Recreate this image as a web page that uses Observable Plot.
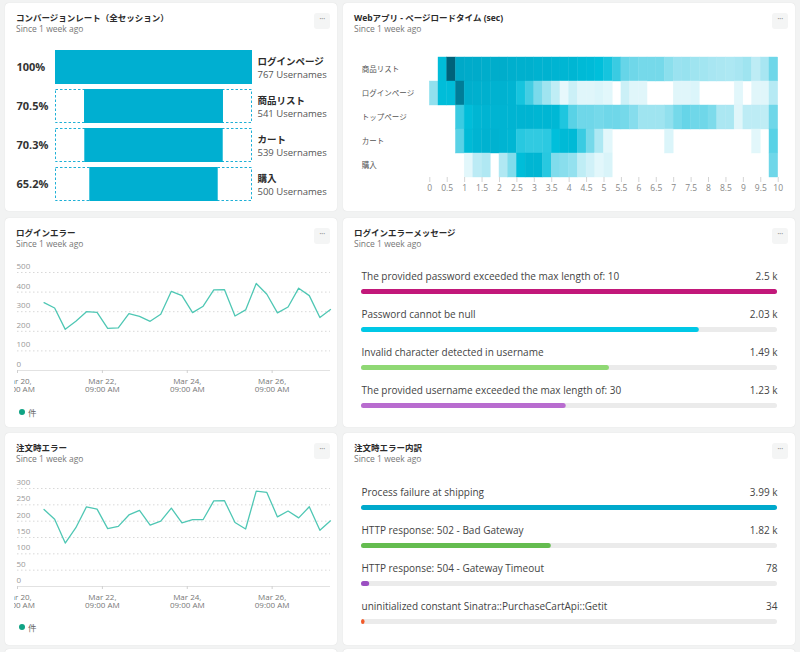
<!DOCTYPE html>
<html><head><meta charset="utf-8">
<script src="https://cdn.jsdelivr.net/npm/d3@7"></script>
<script src="https://cdn.jsdelivr.net/npm/@observablehq/plot@0.6"></script>
<style>
body{margin:0;background:#f2f3f3;width:800px;height:652px;overflow:hidden;position:relative;font-family:"Open Sans","Noto Sans CJK JP",sans-serif;}
.panel{position:absolute;background:#fff;border-radius:4px;box-shadow:0 0 1px rgba(0,0,0,0.15);}
.title{position:absolute;left:11px;top:8px;font-size:8.5px;font-weight:700;color:#2b2b2b;white-space:nowrap;}
.sub{position:absolute;left:11px;top:20px;font-size:8.5px;color:#777;white-space:nowrap;}
.dots{position:absolute;right:7px;top:10px;width:16px;height:16px;background:#f4f5f5;border-radius:3px;color:#888;font-size:9px;text-align:center;line-height:11px;letter-spacing:-0.5px;}
.chart{position:absolute;}
.chart svg{overflow:hidden;background:transparent;}
.legend{position:absolute;font-size:8.5px;color:#666;display:flex;align-items:center;gap:3px;}
.legend i{display:inline-block;width:6px;height:6px;border-radius:50%;background:#10a384;}
</style></head>
<body>
<div class="panel" style="left:5px;top:3px;width:332px;height:208px"><div class="title">コンバージョンレート（全セッション）</div><div class="sub">Since 1 week ago</div><div class="dots">···</div></div>
<div class="panel" style="left:343px;top:3px;width:452px;height:208px"><div class="title">Webアプリ - ページロードタイム (sec)</div><div class="sub">Since 1 week ago</div><div class="dots">···</div></div>
<div class="panel" style="left:5px;top:218px;width:332px;height:209px"><div class="title">ログインエラー</div><div class="sub">Since 1 week ago</div><div class="dots">···</div></div>
<div class="panel" style="left:343px;top:218px;width:452px;height:209px"><div class="title">ログインエラーメッセージ</div><div class="sub">Since 1 week ago</div><div class="dots">···</div></div>
<div class="panel" style="left:5px;top:433px;width:332px;height:212px"><div class="title">注文時エラー</div><div class="sub">Since 1 week ago</div><div class="dots">···</div></div>
<div class="panel" style="left:343px;top:433px;width:452px;height:212px"><div class="title">注文時エラー内訳</div><div class="sub">Since 1 week ago</div><div class="dots">···</div></div>
<div class="panel" style="left:5px;top:649px;width:332px;height:40px"></div>
<div class="panel" style="left:343px;top:649px;width:452px;height:40px"></div>

<div class="chart" id="funnel" style="left:5px;top:40px"></div>
<div class="chart" id="heat" style="left:343px;top:50px"></div>
<div class="chart" id="login" style="left:14px;top:258px"></div>
<div class="legend" style="left:19px;top:406px"><i></i><span>件</span></div>
<div class="chart" id="listLogin" style="left:343px;top:255px"></div>
<div class="chart" id="order" style="left:14px;top:474px"></div>
<div class="legend" style="left:19px;top:621px"><i></i><span>件</span></div>
<div class="chart" id="listOrder" style="left:343px;top:471px"></div>

<script>
// ---------- Data ----------
const funnelSteps = ["ログインページ", "商品リスト", "カート", "購入"];
const funnelUsers = [767, 541, 539, 500];
const funnelPctLabels = ["100%", "70.5%", "70.3%", "65.2%"];

const loadPages = ["商品リスト", "ログインページ", "トップページ", "カート", "購入"];
const loadBinWidth = 0.25;
const loadTicks = [0,0.5,1,1.5,2,2.5,3,3.5,4,4.5,5,5.5,6,6.5,7,7.5,8,8.5,9,9.5,10];
const heatProductList = [0,76,100,87,86,86,85,85,85,84,83,83,82,82,81,80,80,78,77,75,70,62,52,50,48,48,48,40,35,36,33,32,30,29,28,30,33,22,30,50];
const heatLoginPage   = [38,76,76,95,84,83,83,82,82,81,70,60,46,33,21,4,16,7,7,9,6,0,16,7,7,0,0,0,7,7,9,0,0,0,0,6,0,7,7,25];
const heatTopPage     = [0,0,0,62,76,80,81,81,81,81,81,81,80,80,79,68,55,50,50,48,50,50,48,42,33,33,33,38,48,52,50,50,45,29,29,7,22,22,21,50];
const heatCart        = [0,0,0,55,78,81,82,82,81,80,66,64,64,65,75,78,78,62,48,28,6,0,0,0,0,0,0,9,0,0,0,0,0,0,0,0,0,6,0,55];
const heatPurchase    = [0,0,0,0,6,23,27,0,27,44,76,80,80,66,44,41,37,21,14,6,10,0,0,0,0,0,0,0,0,0,0,0,0,0,0,0,0,0,0,50];

const errTimes = [
 "2023-03-21T00:00Z","2023-03-21T06:00Z","2023-03-21T12:00Z","2023-03-21T18:00Z",
 "2023-03-22T00:00Z","2023-03-22T06:00Z","2023-03-22T12:00Z","2023-03-22T18:00Z",
 "2023-03-23T00:00Z","2023-03-23T06:00Z","2023-03-23T12:00Z","2023-03-23T18:00Z",
 "2023-03-24T00:00Z","2023-03-24T06:00Z","2023-03-24T12:00Z","2023-03-24T18:00Z",
 "2023-03-25T00:00Z","2023-03-25T06:00Z","2023-03-25T12:00Z","2023-03-25T18:00Z",
 "2023-03-26T00:00Z","2023-03-26T06:00Z","2023-03-26T12:00Z","2023-03-26T18:00Z",
 "2023-03-27T00:00Z","2023-03-27T06:00Z","2023-03-27T12:00Z","2023-03-27T18:00Z"];
const loginErrors = [346,319,210,251,300,297,215,217,290,276,251,287,404,382,295,328,411,413,278,309,444,389,294,324,420,382,270,311];
const orderErrors = [236,206,133,180,244,237,177,184,219,233,188,200,240,195,205,205,262,263,196,176,292,288,213,231,210,244,172,201];
const timeDomain = ["2023-03-20T09:00Z", "2023-03-27T18:00Z"];
const timeTicks = ["2023-03-20T09:00Z","2023-03-22T09:00Z","2023-03-24T09:00Z","2023-03-26T09:00Z"];
const loginYTicks = [0,100,200,300,400,500];
const orderYTicks = [0,50,100,150,200,250,300];

const loginMessages = ["The provided password exceeded the max length of: 10","Password cannot be null","Invalid character detected in username","The provided username exceeded the max length of: 30"];
const loginMsgCounts = [2500, 2030, 1490, 1230];
const loginMsgColors = ["#c2187a", "#00c8e6", "#8fd874", "#b86ccf"];

const orderMessages = ["Process failure at shipping","HTTP response: 502 - Bad Gateway","HTTP response: 504 - Gateway Timeout","uninitialized constant Sinatra::PurchaseCartApi::Getit"];
const orderMsgCounts = [3990, 1820, 78, 34];
const orderMsgColors = ["#00a9cc", "#64bc4f", "#9b4fc2", "#f15a2a"];

const FONT = '"Open Sans","Noto Sans CJK JP",sans-serif';

// ---------- Funnel ----------
const fData = funnelSteps.map((s, i) => ({step: s, users: funnelUsers[i], pct: funnelUsers[i] / funnelUsers[0] * 100, label: funnelPctLabels[i]}));
document.getElementById("funnel").append(Plot.plot({
  width: 332, height: 170, marginLeft: 50, marginRight: 85, marginTop: 8, marginBottom: 7,
  style: {fontFamily: FONT, background: "transparent"},
  x: {domain: [0, 100], axis: null},
  y: {domain: funnelSteps, axis: null, paddingInner: 0.12, paddingOuter: 0},
  marks: [
    Plot.barX(fData.slice(1), {x1: 0, x2: 100, y: "step", fill: "none", stroke: "#1fb0d6", strokeWidth: 1, strokeDasharray: "2.5,2", inset: 0.5}),
    Plot.barX(fData, {x1: d => (100 - d.pct) / 2, x2: d => (100 + d.pct) / 2, y: "step", fill: "#00afd1"}),
    Plot.text(fData, {y: "step", text: "label", frameAnchor: "left", textAnchor: "start", dx: -39, fontSize: 11, fontWeight: 700, fill: "#333"}),
    Plot.text(fData, {y: "step", text: "step", frameAnchor: "right", textAnchor: "start", dx: 5, dy: -6, fontSize: 9.5, fontWeight: 700, fill: "#2b2b2b"}),
    Plot.text(fData, {y: "step", text: d => `${d.users} Usernames`, frameAnchor: "right", textAnchor: "start", dx: 5, dy: 7, fontSize: 9.5, fill: "#555"})
  ]
}));

// ---------- Heatmap ----------
const heatRows = [heatProductList, heatLoginPage, heatTopPage, heatCart, heatPurchase];
const heatData = loadPages.flatMap((p, r) => heatRows[r].map((v, i) => ({page: p, x1: i * loadBinWidth, x2: (i + 1) * loadBinWidth, v}))).filter(d => d.v > 0);
document.getElementById("heat").append(Plot.plot({
  width: 452, height: 150, marginLeft: 86.3, marginRight: 17.3, marginTop: 7, marginBottom: 23,
  style: {fontFamily: FONT, background: "transparent"},
  x: {domain: [0, 10], axis: null},
  y: {domain: loadPages, axis: null, padding: 0},
  color: {type: "linear", domain: [0, 25, 50, 75, 87, 100], range: ["#f0fbfd", "#b6eaf4", "#6fd7e9", "#00bfdb", "#00a9c8", "#00627a"]},
  marks: [
    Plot.barX(heatData, {x1: "x1", x2: "x2", y: "page", fill: "v", inset: 0, stroke: "v", strokeWidth: 0.4}),
    Plot.axisX({ticks: loadTicks, tickSize: 5, tickPadding: 2, stroke: "#d4d4d4", fill: "#888", fontSize: 8.5, tickFormat: d => String(d), label: null}),
    Plot.text(loadPages, {y: d => d, text: d => d, frameAnchor: "left", textAnchor: "start", dx: -68, fontSize: 7.5, fill: "#555"})
  ]
}));

// ---------- Line charts ----------
const fmtTick = d3.utcFormat("%b %d,\n%I:%M %p");
function lineChart(values, yTicks) {
  const data = errTimes.map((t, i) => ({t: new Date(t), v: values[i]}));
  return Plot.plot({
    width: 319, height: 135, marginLeft: 3, marginRight: 3, marginTop: 14, marginBottom: 23,
    style: {fontFamily: FONT, background: "transparent"},
    x: {type: "utc", domain: timeDomain.map(d => new Date(d)), axis: null, label: null},
    y: {domain: [0, yTicks[yTicks.length - 1]], axis: null, label: null},
    marks: [
      Plot.ruleY(yTicks.filter(d => d > 0), {stroke: "#d8d8d8", strokeDasharray: "1.5,2.5"}),
      Plot.ruleY([0], {stroke: "#e2e2e2"}),
      Plot.axisX({ticks: timeTicks.map(d => new Date(d)), tickFormat: fmtTick, tickSize: 3, tickPadding: 5, stroke: "#d0d0d0", fill: "#777", fontSize: 8, lineHeight: 1, label: null}),
      Plot.text(yTicks, {y: d => d, text: d => String(d), frameAnchor: "left", textAnchor: "start", dx: -1, dy: -6, fill: "#999", fontSize: 8}),
      Plot.line(data, {x: "t", y: "v", stroke: "#4fc7b4", strokeWidth: 1.3})
    ]
  });
}
document.getElementById("login").append(lineChart(loginErrors, loginYTicks));
document.getElementById("order").append(lineChart(orderErrors, orderYTicks));

// ---------- Bar lists ----------
const fmtCount = v => v >= 1000 ? `${+(v / 1000).toFixed(2)} k` : String(v);
function barList(msgs, counts, colors) {
  const max = d3.max(counts);
  const data = msgs.map((m, i) => ({msg: m, v: counts[i], c: colors[i]}));
  return Plot.plot({
    width: 452, height: 165, marginLeft: 18, marginRight: 18, marginTop: 7, marginBottom: 6,
    style: {fontFamily: FONT, background: "transparent"},
    x: {domain: [0, max], axis: null},
    y: {domain: msgs, axis: null, padding: 0},
    color: {type: "identity"},
    marks: [
      Plot.barX(data, {x1: 0, x2: max, y: "msg", fill: "#ebebeb", insetTop: 27, insetBottom: 6, rx: 2.5}),
      Plot.barX(data, {x1: 0, x2: "v", y: "msg", fill: "c", insetTop: 27, insetBottom: 6, rx: 2.5}),
      Plot.text(data, {y: "msg", text: "msg", frameAnchor: "left", textAnchor: "start", dy: -5, fontSize: 10, fill: "#444"}),
      Plot.text(data, {y: "msg", text: d => fmtCount(d.v), frameAnchor: "right", textAnchor: "end", dy: -5, fontSize: 10, fill: "#444"})
    ]
  });
}
document.getElementById("listLogin").append(barList(loginMessages, loginMsgCounts, loginMsgColors));
document.getElementById("listOrder").append(barList(orderMessages, orderMsgCounts, orderMsgColors));
</script>
</body></html>
